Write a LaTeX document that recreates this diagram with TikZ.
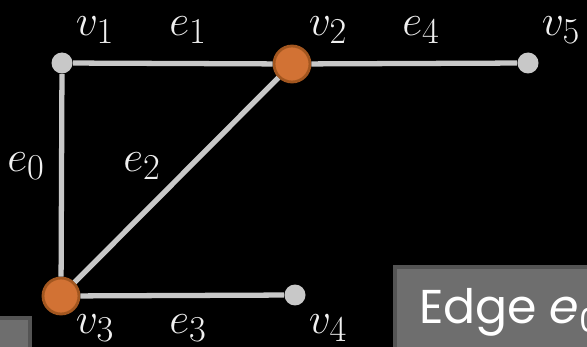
\documentclass[tikz,border=0pt]{standalone}
\usepackage{fontspec}
\newfontfamily\boxfont{Poppins}
\usetikzlibrary{positioning}
\definecolor{edgegray}{HTML}{C8C8C8}
\definecolor{hitorange}{HTML}{D27234}
\definecolor{hitborder}{HTML}{A2561F}
\definecolor{panelfill}{HTML}{6E6E6E}
\definecolor{panelline}{HTML}{545454}

\begin{document}
\begin{tikzpicture}[
	x=0.02cm, y=-0.02cm,
	vtx/.style={circle, fill=edgegray, inner sep=0pt, minimum size=0.42cm},
	hit/.style={circle, fill=hitorange, draw=hitborder, line width=1.6pt, inner sep=0pt, minimum size=0.72cm},
	edg/.style={draw=edgegray, line width=3pt},
	lbl/.style={text=white!94!black, font=\fontsize{28}{30}\selectfont, inner sep=0pt},
	panel/.style={fill=panelfill, draw=panelline, line width=2.4pt, inner sep=0pt}
	]
	\fill[black] (0,0) rectangle (587,347);
	\useasboundingbox (0,0) rectangle (587,347);
	\clip (0,0) rectangle (587,347);

	\node[vtx] (v1) at (62,63) {};
	\node[vtx] (v5) at (528,63) {};
	\node[vtx] (v4) at (295,295) {};
	\node[hit] (v2) at (292,64) {};
	\node[hit] (v3) at (61,296) {};

	\draw[edg] (v1) -- (v3);
	\draw[edg] (v1) -- (v2);
	\draw[edg] (v3) -- (v2);
	\draw[edg] (v3) -- (v4);
	\draw[edg] (v2) -- (v5);

	\node[lbl] (lv1) at (95,30) {$v_1$};
	\node[lbl] (lv2) at (328,30) {$v_2$};
	\node[lbl] (lv5) at (561,30) {$v_5$};
	\node[lbl] (lv3) at (95,328) {$v_3$};
	\node[lbl] (lv4) at (328,328) {$v_4$};
	\node[lbl] (le0) at (26,166) {$e_0$};
	\node[lbl] (le1) at (188,30) {$e_1$};
	\node[lbl] (le2) at (142,166) {$e_2$};
	\node[lbl] (le3) at (188,328) {$e_3$};
	\node[lbl] (le4) at (421,30) {$e_4$};

	\draw[panel] (395,267) rectangle (620,370);
	\draw[panel] (-20,318) rectangle (30,370);
	\node[anchor=base west, text=white, font=\boxfont\fontsize{27}{30}\selectfont, inner sep=0pt] (info) at (419,323) {Edge {\itshape e}\textsubscript{0}};
\end{tikzpicture}
\end{document}
